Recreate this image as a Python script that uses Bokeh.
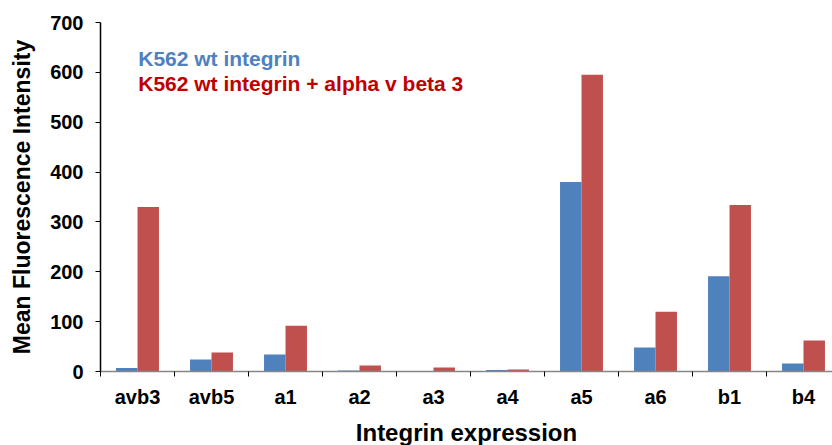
from bokeh.plotting import figure
from bokeh.models import Range1d, FixedTicker, Label, ColumnDataSource
from bokeh.embed import file_html
from bokeh.resources import INLINE

categories = ["avb3", "avb5", "a1", "a2", "a3", "a4", "a5", "a6", "b1", "b4"]
wt_values = [7, 24, 34, 2, 1, 3, 380, 48, 191, 16]
avb3_values = [330, 38, 92, 12, 8, 4, 595, 120, 334, 62]
y_ticks = [0, 100, 200, 300, 400, 500, 600, 700]
series_names = ["K562 wt integrin", "K562 wt integrin + alpha v beta 3"]

BLUE = "#4F81BD"
RED = "#C0504D"
FONT = "Liberation Sans"

n = len(categories)
centers = [i + 0.5 for i in range(n)]
bw = 0.29
src = ColumnDataSource(dict(
    xb=[c - bw / 2 for c in centers],
    xr=[c + bw / 2 for c in centers],
    wt=wt_values,
    av=avb3_values,
))

p = figure(frame_width=732, frame_height=349, output_backend="svg", toolbar_location=None,
           x_range=Range1d(0, 732 / 74), y_range=Range1d(0, 700),
           min_border_left=100, min_border_right=0, min_border_top=22, min_border_bottom=0)
p.outline_line_color = None
p.grid.visible = False
p.background_fill_color = "white"
p.border_fill_color = "white"

p.vbar(x="xb", top="wt", width=bw, source=src, fill_color=BLUE, line_color=None)
p.vbar(x="xr", top="av", width=bw, source=src, fill_color=RED, line_color=None)

# x axis
p.xaxis.ticker = FixedTicker(ticks=centers, minor_ticks=list(range(n + 1)))
p.xaxis.major_label_overrides = {c: lab for c, lab in zip(centers, categories)}
p.xaxis.major_tick_out = 0
p.xaxis.major_tick_in = 0
p.xaxis.minor_tick_out = 5
p.xaxis.minor_tick_in = 0
p.xaxis.minor_tick_line_color = "black"
p.xaxis.axis_line_color = "#868686"
p.xaxis.axis_line_width = 1.5
p.xaxis.major_label_standoff = 9
p.xaxis.major_label_text_font = FONT
p.xaxis.major_label_text_font_style = "bold"
p.xaxis.major_label_text_font_size = "20px"
p.xaxis.major_label_text_color = "black"
p.xaxis.axis_label = "Integrin expression"
p.xaxis.axis_label_text_font = FONT
p.xaxis.axis_label_text_font_style = "bold"
p.xaxis.axis_label_text_font_size = "24px"
p.xaxis.axis_label_text_color = "black"
p.xaxis.axis_label_standoff = 8

# y axis
p.yaxis.ticker = FixedTicker(ticks=y_ticks)
p.yaxis.minor_tick_line_color = None
p.yaxis.major_tick_out = 5
p.yaxis.major_tick_in = 0
p.yaxis.major_tick_line_color = "black"
p.yaxis.axis_line_color = "black"
p.yaxis.axis_line_width = 1.5
p.yaxis.major_label_standoff = 12
p.yaxis.major_label_text_font = FONT
p.yaxis.major_label_text_font_style = "bold"
p.yaxis.major_label_text_font_size = "20px"
p.yaxis.major_label_text_color = "black"
p.yaxis.axis_label = "Mean Fluorescence Intensity"
p.yaxis.axis_label_text_font = FONT
p.yaxis.axis_label_text_font_style = "bold"
p.yaxis.axis_label_text_font_size = "23px"
p.yaxis.axis_label_text_color = "black"
p.yaxis.axis_label_standoff = 12

# legend-like labels
p.add_layout(Label(x=0.51, y=627, text=series_names[0], text_color=BLUE,
                   text_font=FONT, text_font_style="bold", text_font_size="21px",
                   text_baseline="middle"))
p.add_layout(Label(x=0.51, y=577, text=series_names[1], text_color="#C00000",
                   text_font=FONT, text_font_style="bold", text_font_size="21px",
                   text_baseline="middle"))

open("out.html", "w").write(file_html(p, INLINE))
